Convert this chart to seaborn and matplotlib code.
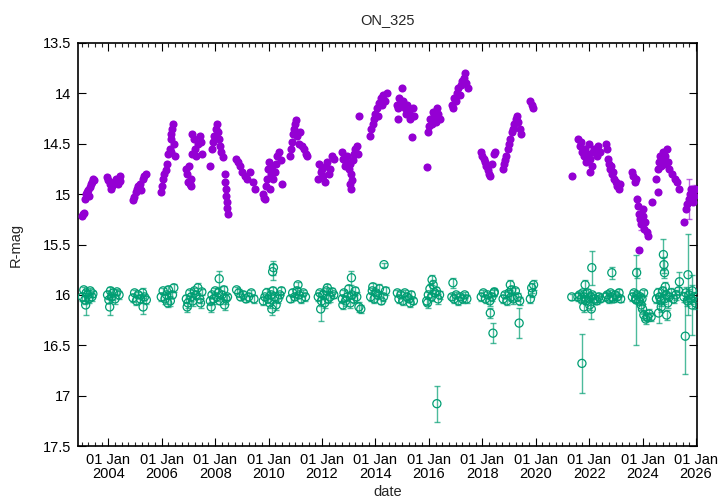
"""
ON_325 light curve (R band) - target and comparison star
"""

import datetime as dt

import matplotlib

matplotlib.use("Agg")
import matplotlib.dates as mdates
import matplotlib.pyplot as plt
import pandas as pd
import seaborn as sns

# --- target star (purple), decimal year / R mag / error ---
target_year = [
    2003.03, 2003.06, 2003.10, 2003.13, 2003.17, 2003.20, 2003.24, 2003.27, 2003.30, 2003.34, 2003.38, 2003.42, 2003.45,
    2003.95, 2004.00, 2004.05, 2004.10, 2004.15, 2004.20, 2004.28, 2004.35, 2004.42, 2004.45,
    2004.92, 2004.95, 2005.02, 2005.08, 2005.12, 2005.18, 2005.22, 2005.28, 2005.35, 2005.42,
    2005.98, 2006.02, 2006.06, 2006.10, 2006.14, 2006.20, 2006.25, 2006.30, 2006.33, 2006.36, 2006.39, 2006.42,
    2006.45, 2006.48, 2006.35,
    2006.92, 2006.95, 2006.98, 2007.02, 2007.05, 2007.08, 2007.12, 2007.15, 2007.20, 2007.25, 2007.30, 2007.35,
    2007.42, 2007.48, 2007.52, 2007.10,
    2007.82, 2007.88, 2007.92, 2007.97, 2008.02, 2008.06, 2008.10, 2008.14, 2008.18, 2008.22, 2008.28, 2008.35,
    2008.37, 2008.39, 2008.41, 2008.43, 2008.45, 2008.47,
    2008.78, 2008.85, 2008.92, 2009.00, 2009.10, 2009.20, 2009.30, 2009.40, 2009.48,
    2009.78, 2009.82, 2009.86, 2009.90, 2009.94, 2009.98, 2010.02, 2010.08, 2010.12, 2010.18, 2010.22, 2010.28,
    2010.32, 2010.38, 2010.45, 2010.50, 2010.05,
    2010.80, 2010.84, 2010.88, 2010.92, 2010.96, 2011.00, 2011.04, 2011.08, 2011.12, 2011.18, 2011.25, 2011.32,
    2011.40, 2011.45,
    2011.85, 2011.90, 2011.95, 2012.00, 2012.05, 2012.10, 2012.15, 2012.20, 2012.25, 2012.30, 2012.38, 2012.45,
    2012.75, 2012.80, 2012.85, 2012.90, 2012.95, 2013.00, 2013.05, 2013.10, 2013.15, 2013.20, 2013.25, 2013.30,
    2013.35, 2013.05, 2013.08, 2013.38, 2013.12,
    2013.80, 2013.85, 2013.90, 2013.95, 2014.00, 2014.05, 2014.10, 2014.15, 2014.20, 2014.25, 2014.30, 2014.35,
    2014.42,
    2014.80, 2014.85, 2014.90, 2014.95, 2015.00, 2015.05, 2015.10, 2015.15, 2015.20, 2015.25, 2015.30, 2015.35,
    2015.40, 2015.45, 2014.83,
    2015.92, 2015.95, 2016.00, 2016.05, 2016.10, 2016.15, 2016.20, 2016.25, 2016.30, 2016.35, 2016.42,
    2016.85, 2016.90, 2016.95, 2017.00, 2017.05, 2017.10, 2017.15, 2017.20, 2017.25, 2017.30, 2017.35, 2017.40,
    2017.45,
    2017.95, 2018.00, 2018.05, 2018.10, 2018.15, 2018.20, 2018.25, 2018.30, 2018.38, 2018.45, 2018.48,
    2018.78, 2018.82, 2018.86, 2018.90, 2018.95, 2019.00, 2019.05, 2019.10, 2019.15, 2019.20, 2019.25, 2019.30,
    2019.35, 2019.40, 2019.45,
    2019.80, 2019.85, 2019.90,
    2021.35, 2021.60, 2021.65, 2021.70, 2021.75, 2021.80, 2021.85, 2021.90, 2021.95, 2022.00, 2022.05, 2022.10,
    2022.15, 2022.20, 2022.28, 2022.35, 2022.42, 2022.05,
    2022.62, 2022.66, 2022.70, 2022.74, 2022.78, 2022.82, 2022.86, 2022.90, 2022.95, 2023.00, 2023.05, 2023.10,
    2023.15,
    2023.62, 2023.66, 2023.70, 2023.74, 2023.78, 2023.82, 2023.86, 2023.90, 2023.95, 2024.00, 2024.05, 2024.10,
    2024.15, 2024.20, 2023.88, 2024.35, 2024.02,
    2024.52, 2024.56, 2024.60, 2024.64, 2024.68, 2024.72, 2024.76, 2024.80, 2024.85, 2024.90, 2024.95, 2025.00,
    2025.10, 2025.20, 2025.30, 2025.38, 2024.58,
    2025.55, 2025.62, 2025.68, 2025.72, 2025.78, 2025.82, 2025.88, 2025.92, 2025.98,
]
target_mag = [
    15.22, 15.20, 15.19, 15.05, 15.00, 14.98, 14.96, 15.02, 14.93, 14.90, 14.88, 14.85, 14.86,
    14.83, 14.86, 14.90, 14.95, 14.92, 14.88, 14.85, 14.90, 14.87, 14.82,
    15.06, 15.03, 14.98, 14.95, 14.92, 14.90, 14.96, 14.85, 14.82, 14.80,
    14.98, 14.92, 14.85, 14.80, 14.76, 14.70, 14.60, 14.55, 14.45, 14.40, 14.35, 14.30,
    14.50, 14.62, 14.58,
    14.75, 14.80, 14.88, 14.72, 14.90, 14.85, 14.60, 14.40, 14.45, 14.55, 14.62, 14.50,
    14.42, 14.48, 14.60, 14.92,
    14.72, 14.55, 14.48, 14.42, 14.35, 14.30, 14.38, 14.45, 14.52, 14.58, 14.63, 14.80,
    14.88, 14.95, 15.02, 15.08, 15.14, 15.20,
    14.65, 14.68, 14.72, 14.78, 14.82, 14.85, 14.78, 14.88, 14.95,
    15.00, 15.04, 15.05, 14.92, 14.85, 14.75, 14.68, 14.80, 14.72, 14.85, 14.78, 14.70,
    14.62, 14.58, 14.66, 14.90, 14.95,
    14.62, 14.55, 14.48, 14.40, 14.35, 14.30, 14.26, 14.42, 14.50, 14.38, 14.52, 14.55,
    14.60, 14.62,
    14.85, 14.70, 14.78, 14.75, 14.82, 14.88, 14.72, 14.68, 14.80, 14.75, 14.62, 14.65,
    14.58, 14.65, 14.72, 14.68, 14.62, 14.75, 14.70, 14.80, 14.66, 14.60, 14.55, 14.52,
    14.60, 14.90, 14.95, 14.22, 14.86,
    14.42, 14.35, 14.30, 14.25, 14.20, 14.15, 14.22, 14.10, 14.05, 14.12, 14.02, 14.08,
    14.00,
    14.12, 14.15, 14.05, 14.10, 13.95, 14.08, 14.15, 14.20, 14.12, 14.18, 14.25, 14.43,
    14.15, 14.22, 14.25,
    14.73, 14.38, 14.32, 14.25, 14.30, 14.18, 14.22, 14.28, 14.15, 14.20, 14.25,
    14.12, 14.15, 14.05, 14.08, 14.00, 13.95, 14.02, 13.92, 13.88, 13.85, 13.80, 13.90,
    13.95,
    14.58, 14.62, 14.65, 14.68, 14.72, 14.76, 14.80, 14.82, 14.70, 14.60, 14.58,
    14.75, 14.70, 14.66, 14.62, 14.55, 14.50, 14.45, 14.38, 14.35, 14.30, 14.25, 14.22,
    14.28, 14.35, 14.40,
    14.08, 14.12, 14.15,
    14.82, 14.45, 14.52, 14.48, 14.58, 14.62, 14.55, 14.68, 14.60, 14.50, 14.65, 14.72,
    14.58, 14.55, 14.62, 14.52, 14.58, 14.78,
    14.50, 14.55, 14.65, 14.70, 14.75, 14.72, 14.80, 14.78, 14.85, 14.88, 14.92, 14.95,
    14.90,
    14.78, 14.82, 14.88, 14.85, 15.05, 15.12, 15.20, 15.25, 15.30, 15.22, 15.35, 15.28,
    15.38, 15.42, 15.55, 15.08, 15.15,
    14.85, 14.75, 14.68, 14.62, 14.72, 14.65, 14.58, 14.70, 14.62, 14.55, 14.68, 14.75,
    14.80, 14.85, 14.88, 14.95, 14.98,
    15.28, 15.15, 15.10, 15.05, 15.00, 14.95, 15.08, 15.02, 14.95,
]
# most errors are tiny; listed exceptions by index position below
target_err_big = {271: 0.06, 300: 0.20, 305: 0.04, 316: 0.04, 324: 0.20}

# --- comparison star (green) ---
comp_year = [
    2003.03, 2003.08, 2003.12, 2003.17, 2003.22, 2003.27, 2003.32, 2003.38, 2003.42, 2003.15,
    2003.97, 2004.02, 2004.08, 2004.12, 2004.18, 2004.25, 2004.32, 2004.40, 2004.05,
    2004.92, 2004.98, 2005.05, 2005.12, 2005.20, 2005.28, 2005.35, 2005.42, 2005.30,
    2005.98, 2006.05, 2006.12, 2006.18, 2006.25, 2006.32, 2006.40, 2006.45, 2006.22,
    2006.92, 2006.98, 2007.05, 2007.10, 2007.16, 2007.22, 2007.28, 2007.35, 2007.42, 2007.50, 2006.95, 2007.45,
    2007.82, 2007.88, 2007.94, 2008.00, 2008.06, 2008.12, 2008.18, 2008.25, 2008.32, 2008.40, 2008.46, 2008.15,
    2007.85, 2008.35,
    2008.80, 2008.88, 2008.95, 2009.05, 2009.15, 2009.25, 2009.35, 2009.45,
    2009.80, 2009.86, 2009.92, 2009.98, 2010.04, 2010.10, 2010.16, 2010.22, 2010.28, 2010.35, 2010.42, 2010.48,
    2010.15, 2010.18, 2010.12,
    2010.82, 2010.90, 2010.98, 2011.06, 2011.14, 2011.22, 2011.30, 2011.38, 2011.10,
    2011.86, 2011.92, 2011.98, 2012.04, 2012.10, 2012.16, 2012.22, 2012.30, 2012.38, 2012.44, 2011.95, 2012.20,
    2012.76, 2012.82, 2012.88, 2012.94, 2013.00, 2013.06, 2013.12, 2013.18, 2013.24, 2013.30, 2013.38, 2013.45,
    2012.78, 2013.10,
    2013.82, 2013.88, 2013.95, 2014.02, 2014.08, 2014.15, 2014.22, 2014.30, 2014.38, 2014.32, 2013.90,
    2014.82, 2014.88, 2014.95, 2015.02, 2015.10, 2015.18, 2015.26, 2015.34, 2015.42, 2015.30,
    2015.92, 2015.98, 2016.04, 2016.10, 2016.16, 2016.22, 2016.28, 2016.34, 2016.40, 2016.12, 2015.95, 2016.30,
    2016.86, 2016.94, 2017.02, 2017.10, 2017.18, 2017.26, 2017.34, 2017.42, 2016.90,
    2017.96, 2018.04, 2018.12, 2018.20, 2018.28, 2018.36, 2018.44, 2018.30, 2018.40, 2018.45,
    2018.78, 2018.85, 2018.92, 2019.00, 2019.08, 2019.16, 2019.24, 2019.32, 2019.40, 2019.05, 2019.10, 2019.38,
    2019.80, 2019.85, 2019.88, 2019.92,
    2021.35, 2021.58, 2021.64, 2021.70, 2021.76, 2021.82, 2021.88, 2021.94, 2022.00, 2022.06, 2022.12, 2022.20,
    2022.28, 2022.36, 2022.42, 2021.73, 2022.10, 2021.85, 2022.08, 2021.80, 2022.02,
    2022.62, 2022.68, 2022.74, 2022.80, 2022.86, 2022.92, 2022.98, 2023.05, 2023.12, 2023.18, 2022.85,
    2023.62, 2023.68, 2023.74, 2023.80, 2023.86, 2023.92, 2023.98, 2024.04, 2023.78, 2023.76,
    2024.05, 2024.12, 2024.18, 2024.25, 2024.32, 2023.95, 2024.00,
    2024.52, 2024.58, 2024.64, 2024.70, 2024.76, 2024.82, 2024.88, 2024.94, 2025.00, 2025.08, 2025.16, 2025.25,
    2025.35, 2024.78, 2024.80, 2024.82, 2024.85, 2025.38, 2024.60, 2024.90, 2024.70,
    2025.55, 2025.62, 2025.68, 2025.74, 2025.80, 2025.86, 2025.92, 2025.98, 2025.60, 2025.70, 2025.85,
]
comp_mag = [
    16.02, 15.95, 16.05, 15.98, 16.00, 16.04, 15.96, 16.02, 15.99, 16.10,
    16.00, 16.05, 15.96, 16.02, 15.98, 16.04, 15.97, 16.00, 16.12,
    16.03, 15.98, 16.06, 16.00, 16.04, 15.98, 16.02, 16.05, 16.12,
    16.02, 15.96, 16.04, 16.00, 15.95, 16.06, 16.00, 15.93, 16.08,
    16.04, 16.08, 15.98, 16.02, 16.06, 15.96, 16.00, 15.93, 16.04, 15.97, 16.12, 16.08,
    16.06, 16.00, 16.04, 15.96, 16.02, 15.98, 16.06, 16.00, 15.95, 16.04, 16.02, 15.84,
    16.12, 16.10,
    15.95, 15.98, 16.02, 16.00, 16.04, 16.02, 15.98, 16.04,
    16.06, 16.02, 15.98, 16.04, 16.08, 16.00, 15.96, 16.02, 16.10, 16.04, 16.00, 15.96,
    15.77, 15.73, 16.14,
    16.04, 15.98, 16.02, 15.96, 16.00, 16.04, 15.98, 16.02, 15.90,
    16.02, 15.98, 16.06, 16.00, 16.08, 15.96, 16.04, 16.02, 15.97, 16.00, 16.14, 15.93,
    16.04, 15.98, 16.06, 16.02, 15.94, 16.08, 16.00, 16.04, 15.96, 16.02, 16.12, 16.14,
    16.10, 15.83,
    16.02, 15.96, 16.04, 15.98, 16.00, 15.94, 16.06, 16.02, 15.96, 15.70, 15.92,
    15.98, 16.04, 16.00, 16.06, 15.98, 16.02, 16.04, 16.00, 16.06, 16.08,
    16.06, 16.00, 15.94, 16.02, 15.90, 15.98, 15.96, 16.04, 16.00, 15.85, 16.08, 17.08,
    16.02, 16.04, 16.00, 16.06, 16.02, 16.04, 16.00, 16.04, 15.88,
    16.02, 15.98, 16.04, 16.00, 16.06, 16.02, 15.98, 16.18, 16.38, 15.97,
    16.04, 16.00, 16.06, 15.98, 16.02, 16.04, 15.96, 16.02, 16.06, 15.90, 15.95, 16.28,
    16.04, 15.93, 15.98, 15.90,
    16.02, 16.02, 16.00, 16.04, 15.98, 16.02, 16.06, 15.98, 16.04, 16.02, 16.00, 16.04,
    16.06, 16.02, 16.04, 16.68, 15.73, 15.90, 16.14, 16.12, 16.10,
    16.02, 16.00, 16.04, 15.98, 16.02, 16.04, 16.00, 16.02, 15.98, 16.04, 15.78,
    16.02, 15.98, 16.04, 16.00, 16.06, 16.02, 16.04, 15.98, 15.78, 16.05,
    16.20, 16.24, 16.22, 16.19, 16.22, 16.10, 16.14,
    16.04, 15.98, 16.02, 16.06, 15.96, 16.04, 16.00, 16.08, 16.02, 15.98, 16.04, 16.00,
    15.96, 15.60, 15.70, 15.78, 15.92, 15.87, 16.18, 16.20, 16.12,
    16.02, 15.98, 16.06, 16.00, 16.04, 15.96, 16.02, 16.08, 16.41, 15.80, 16.10,
]
comp_err = [
    0.04, 0.03, 0.04, 0.03, 0.05, 0.04, 0.03, 0.04, 0.03, 0.10,
    0.04, 0.03, 0.04, 0.03, 0.04, 0.05, 0.03, 0.04, 0.08,
    0.04, 0.03, 0.04, 0.03, 0.04, 0.05, 0.03, 0.04, 0.07,
    0.04, 0.03, 0.05, 0.03, 0.04, 0.05, 0.03, 0.04, 0.04,
    0.04, 0.05, 0.03, 0.04, 0.05, 0.03, 0.04, 0.05, 0.04, 0.03, 0.05, 0.05,
    0.04, 0.03, 0.05, 0.03, 0.04, 0.05, 0.03, 0.04, 0.04, 0.05, 0.03, 0.08,
    0.05, 0.05,
    0.03, 0.04, 0.03, 0.04, 0.03, 0.04, 0.03, 0.04,
    0.04, 0.03, 0.05, 0.04, 0.05, 0.03, 0.04, 0.05, 0.05, 0.04, 0.03, 0.04,
    0.08, 0.07, 0.06,
    0.03, 0.04, 0.03, 0.04, 0.03, 0.04, 0.03, 0.04, 0.03,
    0.04, 0.03, 0.05, 0.04, 0.05, 0.03, 0.04, 0.05, 0.04, 0.03, 0.12, 0.04,
    0.04, 0.03, 0.05, 0.04, 0.04, 0.05, 0.03, 0.04, 0.04, 0.05, 0.05, 0.04,
    0.04, 0.07,
    0.04, 0.03, 0.04, 0.03, 0.04, 0.05, 0.03, 0.04, 0.04, 0.02, 0.04,
    0.03, 0.04, 0.03, 0.04, 0.03, 0.04, 0.03, 0.04, 0.03, 0.04,
    0.04, 0.03, 0.05, 0.04, 0.05, 0.03, 0.04, 0.05, 0.04, 0.05, 0.05, 0.18,
    0.03, 0.04, 0.03, 0.04, 0.03, 0.04, 0.03, 0.04, 0.05,
    0.04, 0.03, 0.04, 0.03, 0.05, 0.04, 0.03, 0.05, 0.10, 0.04,
    0.04, 0.03, 0.04, 0.03, 0.04, 0.05, 0.03, 0.04, 0.04, 0.05, 0.04, 0.15,
    0.04, 0.05, 0.04, 0.05,
    0.03, 0.04, 0.03, 0.04, 0.03, 0.04, 0.03, 0.04, 0.03, 0.04, 0.03, 0.04,
    0.03, 0.04, 0.03, 0.29, 0.17, 0.05, 0.10, 0.05, 0.05,
    0.04, 0.03, 0.04, 0.03, 0.04, 0.03, 0.04, 0.03, 0.04, 0.03, 0.06,
    0.04, 0.03, 0.04, 0.03, 0.04, 0.03, 0.04, 0.03, 0.05, 0.45,
    0.05, 0.05, 0.04, 0.05, 0.04, 0.05, 0.05,
    0.04, 0.05, 0.04, 0.05, 0.04, 0.05, 0.04, 0.05, 0.04, 0.05, 0.04, 0.05,
    0.04, 0.15, 0.08, 0.05, 0.05, 0.10, 0.10, 0.05, 0.05,
    0.05, 0.06, 0.05, 0.06, 0.05, 0.06, 0.05, 0.06, 0.38, 0.40, 0.30,
]

PURPLE = "#9400d3"
GREEN = "#009e73"


def to_date(dec_year):
    year = int(dec_year)
    start = dt.datetime(year, 1, 1)
    length = (dt.datetime(year + 1, 1, 1) - start).total_seconds()
    return start + dt.timedelta(seconds=(dec_year - year) * length)


target = pd.DataFrame({"date": [to_date(v) for v in target_year], "mag": target_mag})
target["err"] = 0.015
for i, e in target_err_big.items():
    if i < len(target):
        target.loc[i, "err"] = e
comp = pd.DataFrame({"date": [to_date(v) for v in comp_year], "mag": comp_mag, "err": comp_err})

sns.set_style("ticks")
plt.rcParams["font.family"] = ["Liberation Sans", "DejaVu Sans"]

fig = plt.figure(figsize=(7.2, 5.04), dpi=100)
ax = fig.add_axes([78 / 720, 1 - 446 / 504, (697 - 78) / 720, (446 - 43) / 504])

# target star
ax.errorbar(target["date"], target["mag"], yerr=target["err"], fmt="none", ecolor=PURPLE,
            elinewidth=1.0, capsize=2.2, alpha=0.6, zorder=2)
sns.scatterplot(data=target, x="date", y="mag", ax=ax, color=PURPLE, s=34, linewidth=0,
                marker="o", zorder=3, legend=False)

# comparison star
ax.errorbar(comp["date"], comp["mag"], yerr=comp["err"], fmt="none", ecolor=GREEN,
            elinewidth=1.0, capsize=2.2, alpha=0.7, zorder=4)
sns.scatterplot(data=comp, x="date", y="mag", ax=ax, s=34, marker="o", facecolor="none",
                edgecolor=GREEN, linewidth=0.9, zorder=5, legend=False)
ax.collections[-1].set_facecolor("none")
ax.collections[-1].set_edgecolor(GREEN)

ax.set_xlim(dt.datetime(2002, 11, 12), dt.datetime(2026, 1, 15))
ax.set_ylim(17.5, 13.5)
ax.set_yticks([13.5, 14, 14.5, 15, 15.5, 16, 16.5, 17, 17.5])
ax.set_yticklabels(["13.5", "14", "14.5", "15", "15.5", "16", "16.5", "17", "17.5"])

ax.xaxis.set_major_locator(mdates.YearLocator(2))
ax.xaxis.set_major_formatter(mdates.DateFormatter("%d %b\n%Y"))
ax.xaxis.set_minor_locator(mdates.MonthLocator(bymonth=[1, 4, 7, 10]))

ax.tick_params(axis="both", which="major", direction="in", length=6, width=0.8,
               top=True, right=True, labelsize=10.5, colors="black", pad=5)
ax.tick_params(axis="x", which="minor", direction="in", length=3, width=0.8, top=True)
for lab in ax.get_xticklabels():
    lab.set_linespacing(1.0)

for sp in ax.spines.values():
    sp.set_visible(True)
    sp.set_linewidth(1.2)
    sp.set_color("black")

ax.set_xlabel("date", fontsize=10.5, labelpad=3)
ax.set_ylabel("R-mag", fontsize=10.5, labelpad=14)
ax.set_title("ON_325", fontsize=10.5, pad=14)

fig.savefig("out.png", dpi=100)
